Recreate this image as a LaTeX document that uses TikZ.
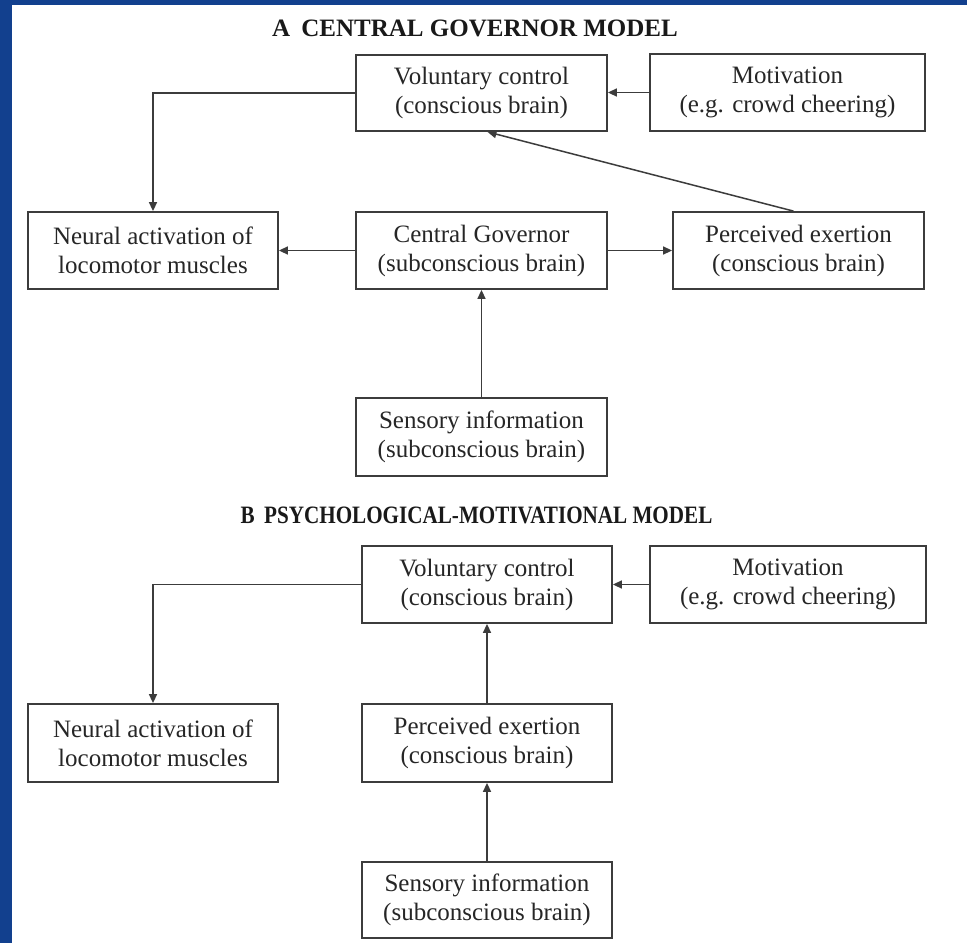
\documentclass[tikz,border=0pt]{standalone}
\usepackage{fontspec}
\usepackage{graphicx}
\setmainfont{Liberation Serif}
\usetikzlibrary{arrows.meta,calc}
\definecolor{bgblue}{RGB}{18,64,142}
\definecolor{linegray}{RGB}{60,60,60}
\tikzset{
  box/.style={draw=linegray, line width=1.8pt, fill=white, align=center, inner sep=0pt,
    font=\fontsize{25}{29}\selectfont, text=black!85},
  arr/.style={draw=linegray, line width=1.5pt, -{Triangle[length=9pt,width=8pt]}},
  ttl/.style={font=\fontsize{25}{29}\selectfont\bfseries, text=black!90, anchor=base}
}
\begin{document}
\begin{tikzpicture}[x=1pt,y=-1pt]
\useasboundingbox (0,0) rectangle (967,943);
\fill[bgblue] (0,0) rectangle (967,943);
\fill[white] (12,5) rectangle (967,943);

% Titles
\node[ttl] (tA) at (475,36) {A\hspace{0.45em}CENTRAL GOVERNOR MODEL};
\node[ttl] (tB) at (476.5,523) {\scalebox{0.845}[1]{B\hspace{0.45em}PSYCHOLOGICAL-MOTIVATIONAL MODEL}};

% A
\node[box, minimum width=251pt, minimum height=76pt] (vcA) at (481.5,93) {Voluntary control\\(conscious brain)};
\node[box, minimum width=275pt, minimum height=77pt] (motA) at (787.5,92.5) {Motivation\\(e.g. crowd cheering)};
\node[box, minimum width=250pt, minimum height=77pt] (neuA) at (153,250.5) {Neural activation of\\locomotor muscles};
\node[box, minimum width=251pt, minimum height=77pt] (cgA) at (481.5,250.5) {Central Governor\\(subconscious brain)};
\node[box, minimum width=251pt, minimum height=77pt] (peA) at (798.5,250.5) {Perceived exertion\\(conscious brain)};
\node[box, minimum width=251pt, minimum height=78pt] (siA) at (481.5,437) {Sensory information\\(subconscious brain)};

\draw[arr] (motA.west) -- (motA.west -| vcA.east);
\draw[arr] (vcA.west) -| (neuA.north);
\draw[arr] (cgA.west) -- (neuA.east);
\draw[arr] (cgA.east) -- (peA.west);
\draw[arr] (siA.north) -- (cgA.south);
\draw[arr] ($(peA.north)+(-5,0)$) -- ($(vcA.south)+(6,0)$);

% B
\node[box, minimum width=250pt, minimum height=77pt] (vcB) at (487,584.5) {Voluntary control\\(conscious brain)};
\node[box, minimum width=276pt, minimum height=77pt] (motB) at (788,584.5) {Motivation\\(e.g. crowd cheering)};
\node[box, minimum width=250pt, minimum height=78pt] (neuB) at (153,743) {Neural activation of\\locomotor muscles};
\node[box, minimum width=250pt, minimum height=78pt] (peB) at (487,743) {Perceived exertion\\(conscious brain)};
\node[box, minimum width=250pt, minimum height=76pt] (siB) at (487,900) {Sensory information\\(subconscious brain)};

\draw[arr] (motB.west) -- (motB.west -| vcB.east);
\draw[arr] (vcB.west) -| (neuB.north);
\draw[arr] (peB.north) -- (vcB.south);
\draw[arr] (siB.north) -- (peB.south);
\end{tikzpicture}
\end{document}
